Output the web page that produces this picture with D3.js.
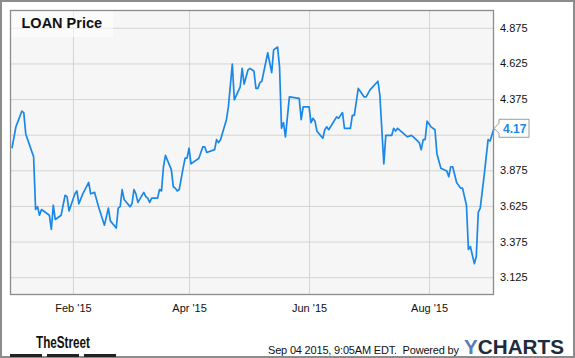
<!DOCTYPE html>
<html><head><meta charset="utf-8">
<script src="https://cdn.jsdelivr.net/npm/d3@7"></script>
<style>
html,body{margin:0;padding:0;background:#fff;}
svg{display:block;font-family:"Liberation Sans",Arial,sans-serif;}
</style></head>
<body><svg id="c" width="575" height="358"></svg>
<script>
const title = "LOAN Price";
const dates = ["2015-01-01","2015-01-03","2015-01-06","2015-01-07","2015-01-08","2015-01-10","2015-01-12","2015-01-13","2015-01-14","2015-01-15","2015-01-16","2015-01-20","2015-01-21","2015-01-22","2015-01-23","2015-01-26","2015-01-28","2015-01-29","2015-01-30",
"2015-02-02","2015-02-03","2015-02-04","2015-02-06","2015-02-09","2015-02-10","2015-02-12","2015-02-14","2015-02-17","2015-02-19","2015-02-20","2015-02-23","2015-02-24","2015-02-25","2015-02-26","2015-02-27",
"2015-03-02","2015-03-03","2015-03-04","2015-03-05","2015-03-06","2015-03-09","2015-03-10","2015-03-11","2015-03-12","2015-03-13","2015-03-16","2015-03-17","2015-03-18","2015-03-19","2015-03-20","2015-03-23","2015-03-24","2015-03-25","2015-03-26","2015-03-27","2015-03-29","2015-03-30","2015-03-31",
"2015-04-01","2015-04-02","2015-04-06","2015-04-08","2015-04-09","2015-04-10","2015-04-14","2015-04-15","2015-04-16","2015-04-17","2015-04-20","2015-04-21","2015-04-23","2015-04-24","2015-04-27","2015-04-28","2015-04-29",
"2015-05-01","2015-05-02","2015-05-04","2015-05-05","2015-05-06","2015-05-07","2015-05-08","2015-05-11","2015-05-13","2015-05-14","2015-05-16","2015-05-17","2015-05-18","2015-05-19","2015-05-20","2015-05-22","2015-05-27","2015-05-28","2015-05-29",
"2015-06-01","2015-06-02","2015-06-03","2015-06-04","2015-06-05","2015-06-08","2015-06-09","2015-06-10","2015-06-11","2015-06-15","2015-06-16","2015-06-18","2015-06-19","2015-06-22","2015-06-23","2015-06-24","2015-06-26","2015-06-29","2015-06-30",
"2015-07-02","2015-07-06","2015-07-07","2015-07-09","2015-07-10","2015-07-13","2015-07-14","2015-07-15","2015-07-16","2015-07-21","2015-07-23","2015-07-24","2015-07-27","2015-07-28","2015-07-29","2015-07-30","2015-07-31",
"2015-08-02","2015-08-04","2015-08-05","2015-08-07","2015-08-10","2015-08-11","2015-08-12","2015-08-13","2015-08-15","2015-08-17","2015-08-18","2015-08-20","2015-08-21","2015-08-22","2015-08-24","2015-08-25","2015-08-26","2015-08-27","2015-08-29","2015-08-31",
"2015-09-01","2015-09-03"];
const prices = [4.03,4.18,4.29,4.28,4.13,4.05,3.97,3.60,3.62,3.56,3.60,3.56,3.46,3.63,3.53,3.56,3.70,3.69,3.59,
3.71,3.73,3.64,3.71,3.79,3.71,3.72,3.62,3.49,3.61,3.52,3.47,3.61,3.62,3.74,3.67,
3.62,3.64,3.74,3.71,3.65,3.72,3.69,3.68,3.65,3.68,3.68,3.74,3.73,3.90,3.98,3.88,3.76,3.75,3.73,3.74,3.89,3.96,3.96,
4.03,3.92,3.96,4.04,4.04,4.00,4.02,4.09,4.07,4.09,4.23,4.32,4.62,4.37,4.46,4.59,4.48,
4.58,4.59,4.57,4.45,4.45,4.49,4.50,4.70,4.56,4.72,4.74,4.60,4.17,4.21,4.11,4.39,4.38,4.23,4.32,
4.32,4.21,4.24,4.22,4.15,4.10,4.16,4.18,4.16,4.25,4.24,4.28,4.17,4.17,4.26,4.26,4.45,4.39,4.39,
4.44,4.50,4.40,3.92,4.12,4.12,4.17,4.15,4.17,4.11,4.12,4.11,4.07,4.02,4.09,4.09,4.22,
4.18,4.16,3.99,3.89,3.87,3.83,3.90,3.90,3.79,3.75,3.75,3.63,3.32,3.34,3.22,3.27,3.58,3.61,3.84,4.09,
4.08,4.17];
const yTicks = [3.125,3.375,3.625,3.875,4.125,4.375,4.625,4.875];
const xTicks = ["2015-02-01","2015-04-01","2015-06-01","2015-08-01"];
const lastLabel = "4.17";
const footerDate = "Sep 04 2015, 9:05AM EDT.  Powered by";

const parse = d3.timeParse("%Y-%m-%d");
const data = dates.map((d,i)=>({date:parse(d), v:prices[i]}));
const svg = d3.select("#c");
const L=10,T=10,R=494,B=295;
const x = d3.scaleTime().domain([parse("2014-12-31"), parse("2015-09-03")]).range([L,R]);
const y = d3.scaleLinear().domain([3,5]).range([B,T]);
const last = data[data.length-1];
const ly = y(last.v);

svg.append("rect").attr("x",1).attr("y",1).attr("width",573).attr("height",356)
  .attr("fill","#fff").attr("stroke","#8c8c8c").attr("stroke-width",2);
svg.append("rect").attr("x",L).attr("y",T).attr("width",R-L).attr("height",B-T).attr("fill","#f6f6f6");

// grid
const gy = svg.append("g").attr("transform",`translate(${L},0)`)
  .call(d3.axisRight(y).tickValues(yTicks).tickSize(R-L).tickFormat(""));
gy.select(".domain").remove();
gy.selectAll("line").attr("stroke","#d4d4d4");
const xT = xTicks.map(parse);
const gx = svg.append("g").attr("transform",`translate(0,${T})`)
  .call(d3.axisBottom(x).tickValues(xT).tickSize(B-T).tickFormat(""));
gx.select(".domain").remove();
gx.selectAll("line").attr("stroke","#d4d4d4");

// title box
svg.append("rect").attr("x",L+1).attr("y",T+1).attr("width",102).attr("height",26).attr("fill","#fff").attr("opacity",0.55);
svg.append("text").attr("x",21.5).attr("y",28.3).attr("font-size",14.5).attr("font-weight","bold").attr("fill","#111").text(title);

// line
svg.append("path").datum(data).attr("fill","none").attr("stroke","#1a88e8").attr("stroke-width",1.7)
  .attr("stroke-linejoin","round")
  .attr("d", d3.line().x(d=>x(d.date)).y(d=>y(d.v)));

// plot border
svg.append("rect").attr("x",L+0.5).attr("y",T+0.5).attr("width",R-L-1).attr("height",B-T-1)
  .attr("fill","none").attr("stroke","#8c8c8c").attr("stroke-width",1.3);

// y axis labels (the one hidden under the last-value flag is not shown)
const fmt = d3.format(".3f");
const ay = svg.append("g").attr("transform",`translate(${R},0)`)
  .call(d3.axisRight(y).tickValues(yTicks.filter(t=>Math.abs(y(t)-ly)>12)).tickSize(0).tickPadding(6).tickFormat(fmt));
ay.select(".domain").remove();
ay.selectAll("text").attr("font-size",11).attr("fill","#111").attr("font-family","Liberation Sans, Arial, sans-serif");

// x axis labels
const ax = svg.append("g").attr("transform",`translate(0,${B})`)
  .call(d3.axisBottom(x).tickValues(xT).tickSize(0).tickPadding(9).tickFormat(d3.timeFormat("%b '%y")));
ax.select(".domain").remove();
ax.selectAll("text").attr("font-size",11).attr("fill","#111").attr("font-family","Liberation Sans, Arial, sans-serif");

// last value label
svg.append("path").attr("d",`M${R},${ly} L${R+5},${ly-5} L${R+5},${ly-9} L${R+35},${ly-9} L${R+35},${ly+9} L${R+5},${ly+9} L${R+5},${ly+5} Z`)
  .attr("fill","#fff").attr("stroke","#9a9a9a").attr("stroke-width",1);
svg.append("text").attr("x",R+9).attr("y",ly+4.5).attr("font-size",12).attr("font-weight","bold").attr("fill","#1a88e8").text(lastLabel);

// footer
svg.append("text").attr("x",63).attr("y",348).attr("text-anchor","middle").attr("font-size",17).attr("font-weight","bold")
  .attr("fill","#111").attr("textLength",54).attr("lengthAdjust","spacingAndGlyphs").text("TheStreet");
[[10,42],[47,79],[84,116]].forEach(s=>svg.append("rect").attr("x",s[0]).attr("y",354).attr("width",s[1]-s[0]).attr("height",3).attr("fill","#222"));
svg.append("text").attr("x",268).attr("y",353.5).attr("font-size",11).attr("fill","#111").attr("xml:space","preserve")
  .attr("textLength",191).attr("lengthAdjust","spacing").text(footerDate);
const yc = svg.append("text").attr("x",464).attr("y",353.8).attr("font-size",19.5).attr("font-weight","bold")
  .attr("textLength",100).attr("lengthAdjust","spacingAndGlyphs");
yc.append("tspan").attr("fill","#5a7db8").text("Y");
yc.append("tspan").attr("fill","#1d2b3d").text("CHARTS");
</script></body></html>
